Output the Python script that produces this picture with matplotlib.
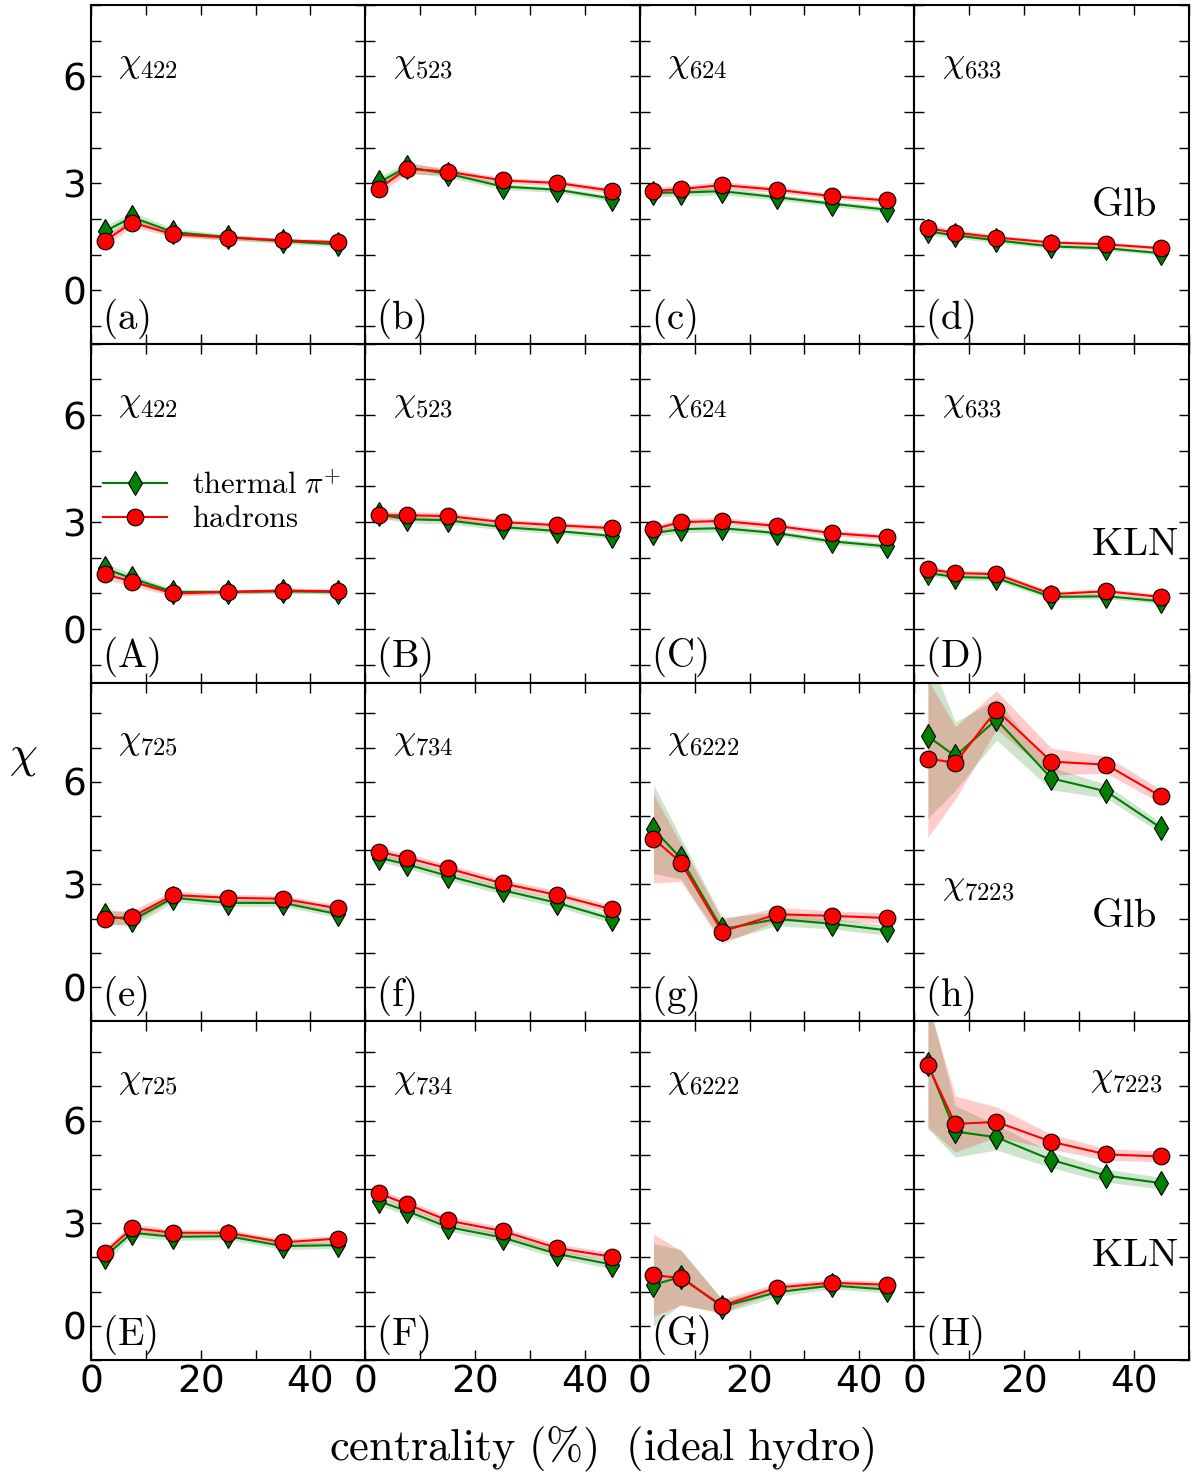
import matplotlib
matplotlib.use('Agg')
import matplotlib.pyplot as plt
import numpy as np

plt.rcParams['mathtext.fontset'] = 'cm'

# centrality bins (%)
cent = [2.5, 7.5, 15, 25, 35, 45]

# panel order: rows (Glb, KLN, Glb, KLN), columns left to right
panels = ['a', 'b', 'c', 'd', 'A', 'B', 'C', 'D',
          'e', 'f', 'g', 'h', 'E', 'F', 'G', 'H']

chi_names = ['422', '523', '624', '633', '422', '523', '624', '633',
             '725', '734', '6222', '7223', '725', '734', '6222', '7223']

# thermal pi+ values
pion = {
    'a': [1.65, 2.05, 1.63, 1.49, 1.38, 1.29],
    'b': [3.03, 3.45, 3.27, 2.91, 2.82, 2.57],
    'c': [2.74, 2.74, 2.78, 2.61, 2.43, 2.26],
    'd': [1.65, 1.54, 1.40, 1.23, 1.18, 1.04],
    'A': [1.70, 1.42, 1.04, 1.04, 1.06, 1.04],
    'B': [3.22, 3.08, 3.05, 2.86, 2.75, 2.61],
    'C': [2.69, 2.80, 2.83, 2.69, 2.46, 2.32],
    'D': [1.57, 1.46, 1.43, 0.90, 0.92, 0.78],
    'e': [2.10, 1.95, 2.61, 2.46, 2.46, 2.13],
    'f': [3.78, 3.59, 3.25, 2.83, 2.46, 1.99],
    'g': [4.62, 3.76, 1.69, 1.99, 1.85, 1.66],
    'h': [7.33, 6.75, 7.82, 6.10, 5.72, 4.65],
    'E': [2.02, 2.72, 2.60, 2.62, 2.33, 2.36],
    'F': [3.64, 3.36, 2.89, 2.58, 2.10, 1.79],
    'G': [1.20, 1.43, 0.56, 0.98, 1.18, 1.06],
    'H': [7.66, 5.68, 5.51, 4.85, 4.39, 4.17],
}

# hadron values
hadron = {
    'a': [1.38, 1.90, 1.57, 1.48, 1.40, 1.35],
    'b': [2.85, 3.41, 3.33, 3.08, 3.01, 2.79],
    'c': [2.78, 2.84, 2.95, 2.82, 2.64, 2.52],
    'd': [1.74, 1.62, 1.48, 1.34, 1.29, 1.18],
    'A': [1.54, 1.33, 1.00, 1.04, 1.08, 1.06],
    'B': [3.19, 3.19, 3.17, 3.00, 2.91, 2.83],
    'C': [2.80, 3.00, 3.03, 2.89, 2.69, 2.58],
    'D': [1.68, 1.57, 1.54, 0.98, 1.06, 0.90],
    'e': [2.00, 2.05, 2.69, 2.61, 2.58, 2.30],
    'f': [3.95, 3.78, 3.47, 3.03, 2.69, 2.27],
    'g': [4.34, 3.64, 1.62, 2.13, 2.08, 2.02],
    'h': [6.68, 6.55, 8.10, 6.59, 6.50, 5.57],
    'E': [2.14, 2.86, 2.72, 2.72, 2.44, 2.55],
    'F': [3.87, 3.56, 3.08, 2.77, 2.27, 2.02],
    'G': [1.48, 1.40, 0.59, 1.12, 1.26, 1.20],
    'H': [7.61, 5.90, 5.96, 5.38, 5.01, 4.95],
}

# band half widths
pion_err = {
    'a': [0.15, 0.15, 0.10, 0.08, 0.07, 0.07],
    'b': [0.15, 0.15, 0.10, 0.08, 0.08, 0.08],
    'c': [0.12, 0.10, 0.10, 0.08, 0.08, 0.08],
    'd': [0.10, 0.08, 0.07, 0.06, 0.06, 0.06],
    'A': [0.15, 0.12, 0.08, 0.06, 0.06, 0.06],
    'B': [0.10, 0.10, 0.10, 0.08, 0.08, 0.08],
    'C': [0.10, 0.10, 0.10, 0.08, 0.08, 0.08],
    'D': [0.08, 0.08, 0.08, 0.07, 0.07, 0.07],
    'e': [0.20, 0.20, 0.12, 0.10, 0.10, 0.10],
    'f': [0.12, 0.12, 0.12, 0.12, 0.12, 0.12],
    'g': [1.30, 0.60, 0.35, 0.20, 0.15, 0.15],
    'h': [2.40, 1.00, 0.60, 0.33, 0.20, 0.15],
    'E': [0.15, 0.12, 0.10, 0.10, 0.10, 0.10],
    'F': [0.12, 0.12, 0.12, 0.12, 0.12, 0.12],
    'G': [1.20, 0.80, 0.20, 0.12, 0.10, 0.10],
    'H': [1.90, 0.75, 0.37, 0.23, 0.19, 0.17],
}
hadron_err = {
    'a': [0.15, 0.12, 0.08, 0.07, 0.06, 0.06],
    'b': [0.15, 0.15, 0.10, 0.08, 0.08, 0.08],
    'c': [0.12, 0.10, 0.10, 0.08, 0.08, 0.08],
    'd': [0.10, 0.08, 0.07, 0.06, 0.06, 0.06],
    'A': [0.15, 0.12, 0.08, 0.06, 0.06, 0.06],
    'B': [0.10, 0.10, 0.10, 0.08, 0.08, 0.08],
    'C': [0.10, 0.10, 0.10, 0.08, 0.08, 0.08],
    'D': [0.08, 0.08, 0.08, 0.07, 0.07, 0.07],
    'e': [0.20, 0.20, 0.12, 0.10, 0.10, 0.10],
    'f': [0.12, 0.12, 0.12, 0.12, 0.12, 0.12],
    'g': [1.30, 0.55, 0.35, 0.20, 0.15, 0.15],
    'h': [2.30, 1.06, 0.56, 0.39, 0.25, 0.20],
    'E': [0.15, 0.12, 0.10, 0.10, 0.10, 0.10],
    'F': [0.12, 0.12, 0.12, 0.12, 0.12, 0.12],
    'G': [1.20, 0.80, 0.20, 0.12, 0.10, 0.10],
    'H': [1.80, 0.82, 0.44, 0.22, 0.17, 0.16],
}

row_model = ['Glb', 'KLN', 'Glb', 'KLN']


def rm(s):
    return r'$\mathrm{' + s.replace(' ', r'\ ') + '}$'


fig, axes = plt.subplots(4, 4, figsize=(12.03, 14.78), dpi=100,
                         sharex=True)
plt.subplots_adjust(left=0.0756, right=0.988, top=0.9966, bottom=0.0798,
                    wspace=0, hspace=0)

green = '#008000'
red = '#ff0000'

for k, p in enumerate(panels):
    row, col = divmod(k, 4)
    ax = axes[row, col]
    x = np.array(cent)
    yp = np.array(pion[p])
    yh = np.array(hadron[p])
    ep = np.array(pion_err[p])
    eh = np.array(hadron_err[p])
    ax.fill_between(x, yp - ep, yp + ep, color=green, alpha=0.2, lw=0)
    ax.fill_between(x, yh - eh, yh + eh, color=red, alpha=0.2, lw=0)
    ax.plot(x, yp, '-', color=green, lw=1.5, marker='d', ms=12,
            mfc=green, mec='k', mew=0.8, label=r'$\mathrm{thermal}\ \pi^{+}$')
    ax.plot(x, yh, '-', color=red, lw=1.5, marker='o', ms=12,
            mfc=red, mec='k', mew=0.8, label=rm('hadrons'))

    ax.set_xlim(0, 50)
    if row < 2:
        ax.set_ylim(-1.5, 8)
    else:
        ax.set_ylim(-0.6, 8.9)
    ax.set_xticks([0, 10, 20, 30, 40, 50])
    ax.set_xticklabels(['0', '', '20', '', '40', ''])
    ax.set_yticks(range(-1, 9))
    if col == 0:
        ax.set_yticklabels(['' if v not in (0, 3, 6) else str(v)
                            for v in range(-1, 9)])
    else:
        ax.set_yticklabels([])
    ax.tick_params(direction='in', top=True, right=True, length=7,
                   width=1, labelsize=27)
    for s in ax.spines.values():
        s.set_linewidth(1.5)

    # chi label
    chi = r'$\chi_{' + chi_names[k] + '}$'
    if p == 'h':
        cx, cy = 0.10, 0.40
    elif p == 'H':
        cx, cy = 0.64, 0.832
    else:
        cx, cy = 0.10, 0.826
    ax.text(cx, cy, chi, transform=ax.transAxes, fontsize=25.5,
            va='center', ha='left')

    # panel tag
    ax.text(0.04, 0.075, rm('(' + p + ')'), transform=ax.transAxes,
            fontsize=28, va='center', ha='left')

    # model tag
    if col == 3:
        ax.text(0.646, 0.41 if row < 2 else 0.31, rm(row_model[row]),
                transform=ax.transAxes, fontsize=29, va='center', ha='left')

axes[1, 0].legend(loc='upper left', bbox_to_anchor=(0.044, 0.625),
                  frameon=False, fontsize=22, handlelength=2.1,
                  handletextpad=0.82, labelspacing=0.15, numpoints=1,
                  borderpad=0, borderaxespad=0)

fig.text(0.5, 0.02, rm('centrality (\\%)  (ideal hydro)'), ha='center',
         va='center', fontsize=32)
fig.text(0.019, 0.488, r'$\chi$', ha='center', va='center', fontsize=32)

fig.savefig('out.png', dpi=100)
